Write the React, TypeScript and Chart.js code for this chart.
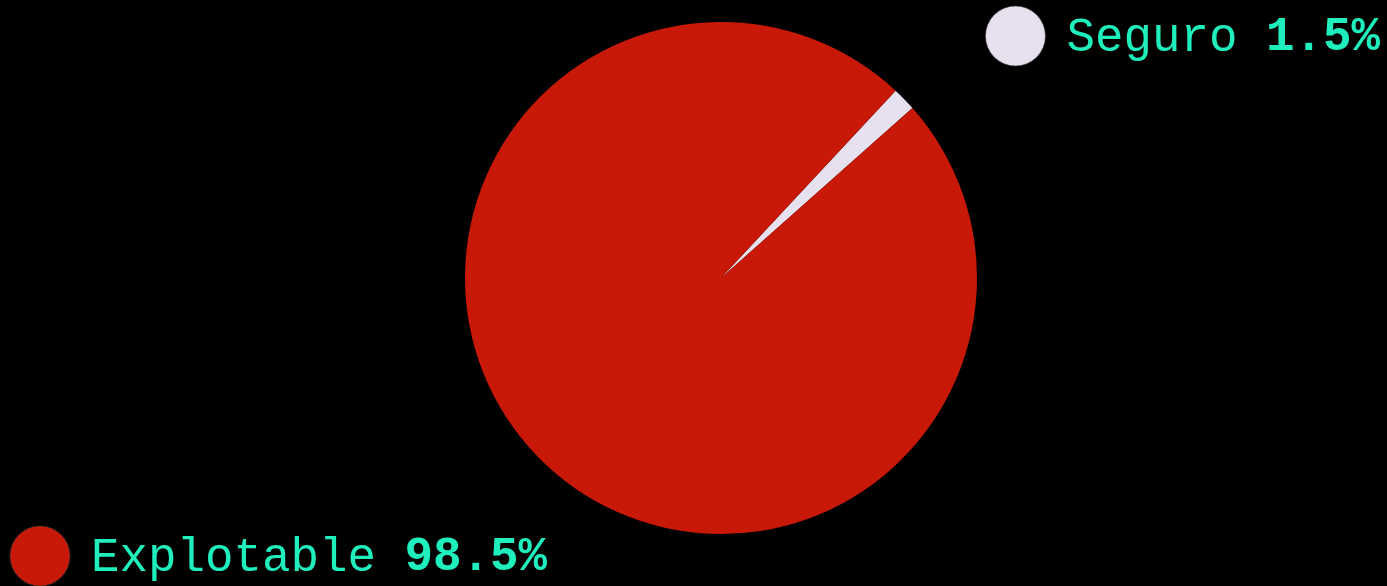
import React, { useEffect, useRef } from "react";
import { Chart, registerables } from "chart.js";

Chart.register(...registerables);

const categories = ["Seguro", "Explotable"];
const values = [1.5, 98.5];
const colors = ["#e7e0ee", "#c81807"];
const textColor = "#1eefbd";

const labelPlugin = {
  id: "outerLabels",
  afterDraw(chart: any) {
    const ctx = chart.ctx as CanvasRenderingContext2D;
    const meta = chart.getDatasetMeta(0);
    const W = chart.width;
    const H = chart.height;
    const total = values.reduce((a, b) => a + b, 0);
    const fontSize = 47.5;
    const dotR = 30;
    const gap = 21;
    const fam = `"Liberation Mono", "DejaVu Sans Mono", monospace`;
    meta.data.forEach((arc: any, i: number) => {
      const { x, y, startAngle, endAngle, outerRadius } = arc.getProps(
        ["x", "y", "startAngle", "endAngle", "outerRadius"],
        true
      );
      const mid = (startAngle + endAngle) / 2;
      const dx = Math.cos(mid);
      const dy = Math.sin(mid);
      const ax = x + dx * outerRadius * 1.6;
      const ay = y + dy * outerRadius * 1.6;
      const name = categories[i] + " ";
      const pct = ((values[i] / total) * 100).toFixed(1) + "%";
      ctx.save();
      ctx.font = `normal ${fontSize}px ${fam}`;
      const wName = ctx.measureText(name).width;
      ctx.font = `bold ${fontSize}px ${fam}`;
      const wPct = ctx.measureText(pct).width;
      const groupW = dotR * 2 + gap + wName + wPct;
      let left = dx >= 0 ? ax : ax - groupW;
      left = Math.max(10, Math.min(W - 7 - groupW, left));
      const cy = Math.max(6 + dotR, Math.min(H - dotR, ay));
      ctx.beginPath();
      ctx.arc(left + dotR, cy, dotR, 0, Math.PI * 2);
      ctx.fillStyle = colors[i];
      ctx.fill();
      ctx.lineWidth = 1;
      ctx.strokeStyle = "rgba(60,60,60,0.6)";
      ctx.stroke();
      ctx.textBaseline = "middle";
      ctx.textAlign = "left";
      ctx.fillStyle = textColor;
      const tx = left + dotR * 2 + gap;
      ctx.font = `normal ${fontSize}px ${fam}`;
      ctx.fillText(name, tx, cy + 2);
      ctx.font = `bold ${fontSize}px ${fam}`;
      ctx.fillText(pct, tx + wName, cy + 2);
      ctx.restore();
    });
  },
};

export default function App() {
  const ref = useRef<HTMLCanvasElement | null>(null);
  useEffect(() => {
    document.body.style.margin = "0";
    document.body.style.background = "#000";
    const chart = new Chart(ref.current as HTMLCanvasElement, {
      type: "pie",
      data: {
        labels: categories,
        datasets: [
          {
            data: values,
            backgroundColor: colors,
            borderWidth: 0,
          },
        ],
      },
      options: {
        animation: false,
        responsive: false,
        maintainAspectRatio: false,
        rotation: 43,
        layout: { padding: { top: 22, bottom: 52, left: 55, right: 0 } },
        plugins: {
          legend: { display: false },
          tooltip: { enabled: false },
        },
      },
      plugins: [labelPlugin],
    });
    return () => chart.destroy();
  }, []);
  return (
    <div style={{ width: 1387, height: 586, background: "#000" }}>
      <canvas ref={ref} width={1387} height={586} style={{ display: "block" }} />
    </div>
  );
}
